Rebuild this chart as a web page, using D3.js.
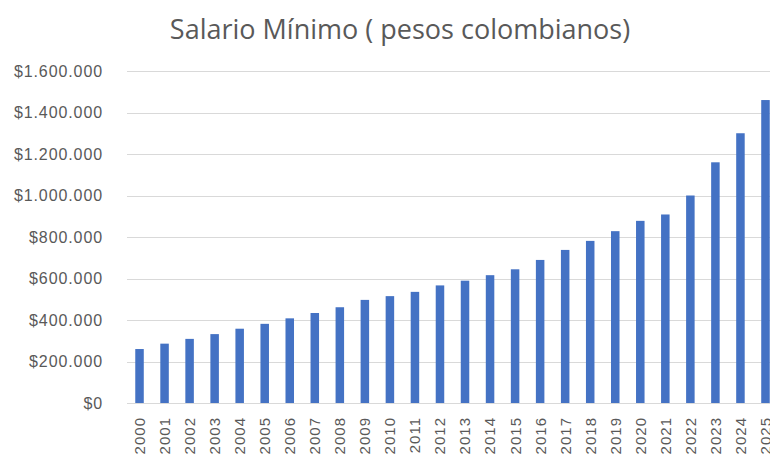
<!DOCTYPE html>
<html>
<head>
<meta charset="utf-8">
<script src="https://cdn.jsdelivr.net/npm/d3@7"></script>
<style>
  body { margin: 0; background: #fff; }
  svg { display: block; font-family: "Open Sans", sans-serif; }
</style>
</head>
<body>
<svg id="bar-chart" width="770" height="458"></svg>
<script>
const years = ["2000", "2001", "2002", "2003", "2004", "2005", "2006", "2007", "2008",
  "2009", "2010", "2011", "2012", "2013", "2014", "2015", "2016", "2017", "2018",
  "2019", "2020", "2021", "2022", "2023", "2024", "2025"];
const salario = [260100, 286000, 309000, 332000, 358000, 381500, 408000, 433700, 461500,
  496900, 515000, 535600, 566700, 589500, 616000, 644350, 689455, 737717, 781242,
  828116, 877803, 908526, 1000000, 1160000, 1300000, 1460000];
const yTicks = [0, 200000, 400000, 600000, 800000, 1000000, 1200000, 1400000, 1600000];

const data = years.map((d, i) => ({ name: d, value: salario[i] }));

const svg = d3.select("#bar-chart");
const margins = { top: 71, right: -8, bottom: 55, left: 127 };
const width = 770, height = 458;

const loc = d3.formatLocale({ decimal: ",", thousands: ".", grouping: [3], currency: ["$", ""] });
const fmt = loc.format("$,.0f");

const x = d3
  .scaleBand()
  .domain(years)
  .range([margins.left, width - margins.right])
  .paddingInner(0.66)
  .paddingOuter(0.33);

const y = d3
  .scaleLinear()
  .domain([0, 1600000])
  .range([height - margins.bottom, margins.top]);

// title
svg
  .append("text")
  .attr("x", 400)
  .attr("y", 39)
  .attr("text-anchor", "middle")
  .attr("fill", "#595959")
  .attr("font-size", "27px")
  .text("Salario Mínimo ( pesos colombianos)");

// gridlines
svg
  .append("g")
  .selectAll("line")
  .data(yTicks)
  .enter()
  .append("line")
  .attr("x1", margins.left)
  .attr("x2", width - margins.right)
  .attr("y1", (d) => Math.round(y(d)) + 0.5)
  .attr("y2", (d) => Math.round(y(d)) + 0.5)
  .attr("stroke", "#d9d9d9")
  .attr("stroke-width", 1.2);

// y axis labels
const yAxis = svg
  .append("g")
  .attr("transform", `translate(${margins.left},0)`)
  .call(d3.axisLeft(y).tickValues(yTicks).tickFormat(fmt).tickSize(0).tickPadding(24));
yAxis.select(".domain").remove();
yAxis
  .selectAll("text")
  .attr("fill", "#595959")
  .attr("font-size", "16px")
  .attr("letter-spacing", "0.9px");

// bars
svg
  .selectAll(".bar")
  .data(data)
  .enter()
  .append("rect")
  .attr("class", "bar")
  .attr("x", (d) => x(d.name))
  .attr("y", (d) => y(d.value))
  .attr("width", x.bandwidth())
  .attr("height", (d) => y(0) - y(d.value))
  .attr("fill", "#4472c4");

// x axis
const xAxis = svg
  .append("g")
  .attr("transform", `translate(0,${height - margins.bottom})`)
  .call(d3.axisBottom(x).tickSize(0));
xAxis.select(".domain").remove();
xAxis
  .selectAll("text")
  .attr("transform", "rotate(-90)")
  .attr("text-anchor", "end")
  .attr("x", -14)
  .attr("y", 0)
  .attr("dy", "0.36em")
  .attr("fill", "#595959")
  .attr("font-size", "15px")
  .attr("letter-spacing", "1px");
</script>
</body>
</html>
